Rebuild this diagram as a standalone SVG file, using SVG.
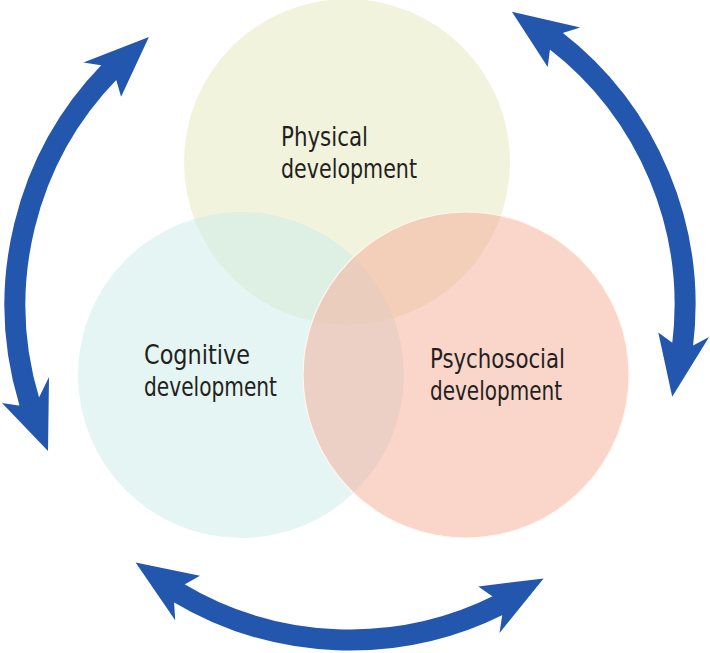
<svg xmlns="http://www.w3.org/2000/svg" width="710" height="653" viewBox="0 0 710 653">
<style>
.lbl{font-family:"DejaVu Sans Condensed","DejaVu Sans",sans-serif;font-size:27px;fill:#231f20}
.shaft{fill:none;stroke:#2357ad;stroke-width:21}
.head{fill:#2357ad}
</style>
<rect width="710" height="653" fill="#ffffff"/>
<g id="physical">
<circle cx="347" cy="162" r="163" fill="#e3e8b9" fill-opacity="0.5"/>
</g>
<g id="cognitive">
<circle cx="241" cy="375" r="163" fill="#cbebe9" fill-opacity="0.5"/>
</g>
<g id="psychosocial">
<circle cx="466" cy="375" r="163" fill="#f5ab95" fill-opacity="0.5" stroke="#fff6f0" stroke-width="1.2"/>
</g>
<g id="labels">
<text class="lbl" x="281" y="146" textLength="87" lengthAdjust="spacingAndGlyphs">Physical</text>
<text class="lbl" x="281" y="178" textLength="136" lengthAdjust="spacingAndGlyphs">development</text>
<text class="lbl" x="144" y="364" textLength="106" lengthAdjust="spacingAndGlyphs">Cognitive</text>
<text class="lbl" x="144" y="396" textLength="133" lengthAdjust="spacingAndGlyphs">development</text>
<text class="lbl" x="430" y="368" textLength="135" lengthAdjust="spacingAndGlyphs">Psychosocial</text>
<text class="lbl" x="430" y="400" textLength="132" lengthAdjust="spacingAndGlyphs">development</text>
</g>
<g id="connectors">
<path class="shaft" d="M29.5,402.4 A335,335 0 0 1 110.6,70.6"/>
<polygon class="head" points="48,451 2,403 18.5,405.5 38.5,398.5 49,377"/>
<polygon class="head" points="148.9,37.1 83.4,62.4 101,65.3 116.2,80.1 121.1,96.7"/>
<path class="shaft" d="M554.4,39.6 A335,335 0 0 1 682.4,347.0"/>
<polygon class="head" points="511.9,11.7 580.3,27.6 563.4,32.7 549.9,50 547.7,66.9"/>
<polygon class="head" points="672.2,396.8 709.1,337.0 693.1,345.4 672.3,342.8 658.3,332.5"/>
<path class="shaft" d="M177.0,591.9 A335,335 0 0 0 500.0,604.5"/>
<polygon class="head" points="135.6,562.4 175.2,620.3 174.1,602.5 184.9,584.2 200.0,575.7"/>
<polygon class="head" points="543.6,578.4 499.5,633.0 502.2,615.2 492.6,596.5 478.3,586.6"/>
</g>
</svg>
